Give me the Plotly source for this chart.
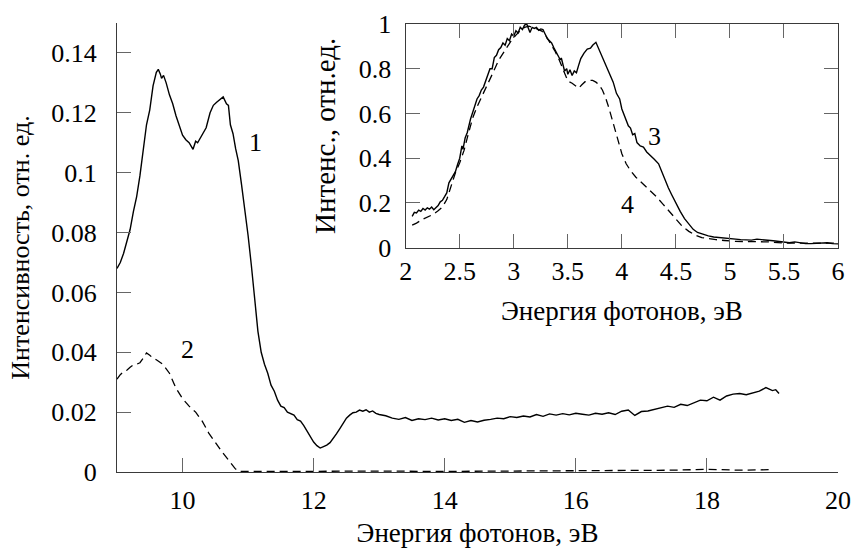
import plotly.graph_objects as go

# ---- main panel: curves 1 (solid) and 2 (dashed), intensity vs photon energy ----
energy_1 = [9.00, 9.05, 9.10, 9.15, 9.20, 9.25, 9.30, 9.35, 9.40, 9.45, 9.50, 9.55, 9.60, 9.63,
            9.66, 9.68, 9.71, 9.75, 9.80, 9.85, 9.90, 9.95, 10.00, 10.05, 10.10, 10.16, 10.20,
            10.23, 10.27, 10.31, 10.36, 10.42, 10.47, 10.52, 10.57, 10.62, 10.67, 10.70, 10.73,
            10.77, 10.81, 10.85, 10.90, 10.95, 11.00, 11.05, 11.10, 11.15, 11.20, 11.25, 11.30,
            11.35, 11.40, 11.45, 11.50, 11.55, 11.60, 11.65, 11.70, 11.75, 11.80, 11.85, 11.90,
            11.95, 12.00, 12.05, 12.10, 12.15, 12.20, 12.25, 12.30, 12.35, 12.40, 12.45, 12.50,
            12.55, 12.60, 12.65, 12.70, 12.75, 12.80, 12.85, 12.90, 12.95, 13.00,
            13.1, 13.2, 13.3, 13.4, 13.5, 13.6, 13.7, 13.8, 13.9, 14.0, 14.1, 14.2, 14.3, 14.4,
            14.5, 14.6, 14.7, 14.8, 14.9, 15.0, 15.1, 15.2, 15.3, 15.4, 15.5, 15.6, 15.7, 15.8,
            15.9, 16.0, 16.1, 16.2, 16.3, 16.4, 16.5, 16.6, 16.7, 16.8, 16.9, 17.0, 17.1, 17.2,
            17.3, 17.4, 17.5, 17.6, 17.7, 17.8, 17.9, 18.0, 18.1, 18.2, 18.3, 18.4, 18.5, 18.6,
            18.7, 18.8, 18.9, 19.0, 19.05, 19.1]
intensity_1 = [0.0680, 0.0700, 0.0730, 0.0770, 0.0810, 0.0870, 0.0920, 0.0990, 0.1070, 0.1160,
               0.1210, 0.1290, 0.1335, 0.1345, 0.1330, 0.1315, 0.1325, 0.1300, 0.1260, 0.1230,
               0.1190, 0.1160, 0.1125, 0.1110, 0.1100, 0.1078, 0.1105, 0.1100, 0.1115, 0.1130,
               0.1150, 0.1200, 0.1225, 0.1235, 0.1245, 0.1253, 0.1230, 0.1225, 0.1160, 0.1130,
               0.1080, 0.1040, 0.0960, 0.0880, 0.0790, 0.0690, 0.0580, 0.0470, 0.0400, 0.0360,
               0.0330, 0.0290, 0.0270, 0.0240, 0.0220, 0.0215, 0.0200, 0.0195, 0.0190, 0.0175,
               0.0170, 0.0155, 0.0135, 0.0118, 0.0100, 0.0088, 0.0080, 0.0085, 0.0090, 0.0098,
               0.0112, 0.0128, 0.0145, 0.0165, 0.0180, 0.0190, 0.0198, 0.0200, 0.0207, 0.0203,
               0.0208, 0.0200, 0.0204, 0.0196, 0.0192,
               0.0188, 0.0180, 0.0176, 0.0182, 0.0172, 0.0178, 0.0175, 0.0180, 0.0174, 0.0178,
               0.0172, 0.0176, 0.0166, 0.0172, 0.0167, 0.0173, 0.0176, 0.0180, 0.0178, 0.0185,
               0.0182, 0.0187, 0.0184, 0.0192, 0.0186, 0.0194, 0.0190, 0.0195, 0.0191, 0.0196,
               0.0193, 0.0190, 0.0196, 0.0193, 0.0198, 0.0192, 0.0203, 0.0207, 0.0189, 0.0202,
               0.0204, 0.0210, 0.0214, 0.0220, 0.0216, 0.0226, 0.0222, 0.0230, 0.0240, 0.0238,
               0.0250, 0.0240, 0.0254, 0.0260, 0.0262, 0.0258, 0.0265, 0.0270, 0.0282, 0.0272,
               0.0275, 0.0262]

energy_2 = [9.00, 9.05, 9.10, 9.15, 9.20, 9.25, 9.30, 9.35, 9.40, 9.45, 9.50, 9.55, 9.60, 9.70,
            9.80, 9.90, 10.00, 10.10, 10.20, 10.30, 10.40, 10.50, 10.60, 10.70, 10.80, 10.85,
            10.90, 11.50, 12.00, 13.00, 14.00, 15.00, 16.00, 16.50, 17.00, 17.50, 18.00, 18.20,
            18.50, 19.00]
intensity_2 = [0.0310, 0.0325, 0.0335, 0.0340, 0.0350, 0.0358, 0.0360, 0.0365, 0.0380, 0.0398,
               0.0390, 0.0380, 0.0375, 0.0360, 0.0330, 0.0280, 0.0245, 0.0220, 0.0200, 0.0170,
               0.0130, 0.0098, 0.0068, 0.0040, 0.0012, 0.0003, 0.0002, 0.0002, 0.0003, 0.0003,
               0.0002, 0.0003, 0.0003, 0.0004, 0.0005, 0.0006, 0.0009, 0.0007, 0.0006, 0.0008]

main_xticks = [10, 12, 14, 16, 18, 20]
main_yticks = [0, 0.02, 0.04, 0.06, 0.08, 0.1, 0.12, 0.14]
main_yticktext = ["0", "0.02", "0.04", "0.06", "0.08", "0.1", "0.12", "0.14"]

# ---- inset: curves 3 (solid) and 4 (dashed), normalised intensity ----
energy_3 = [2.06, 2.08, 2.10, 2.12, 2.14, 2.16, 2.18, 2.20, 2.22, 2.24, 2.26, 2.28, 2.30, 2.32,
            2.34, 2.36, 2.38, 2.40, 2.42, 2.44, 2.46, 2.48, 2.50, 2.52, 2.53, 2.55, 2.57, 2.60,
            2.62, 2.64, 2.66, 2.68, 2.70, 2.72, 2.74, 2.76, 2.78, 2.80, 2.82, 2.84, 2.86, 2.88,
            2.90, 2.92, 2.94, 2.96, 2.98, 3.00, 3.02, 3.04, 3.06, 3.08, 3.10, 3.12, 3.14, 3.15,
            3.17, 3.19, 3.21, 3.23, 3.25, 3.27, 3.29, 3.31, 3.33, 3.35, 3.37, 3.39, 3.41, 3.43,
            3.44, 3.46, 3.47, 3.49, 3.50, 3.52, 3.54, 3.56, 3.58, 3.60, 3.62, 3.65, 3.68, 3.71,
            3.73, 3.76, 3.78, 3.80, 3.83, 3.86, 3.89, 3.92, 3.95, 3.98, 4.00, 4.03, 4.06, 4.08,
            4.10, 4.12, 4.14, 4.17, 4.20, 4.23, 4.26, 4.30, 4.34, 4.37, 4.40, 4.43, 4.46, 4.50,
            4.54, 4.58, 4.62, 4.66, 4.70, 4.75, 4.80, 4.85, 4.90, 4.95, 5.00, 5.05, 5.10, 5.15,
            5.20, 5.25, 5.30, 5.35, 5.40, 5.45, 5.50, 5.55, 5.60, 5.65, 5.70, 5.75, 5.80, 5.85,
            5.90, 5.95, 6.00]
intensity_3 = [0.140, 0.158, 0.155, 0.168, 0.162, 0.175, 0.168, 0.178, 0.172, 0.182, 0.170,
               0.180, 0.188, 0.205, 0.212, 0.228, 0.245, 0.290, 0.305, 0.322, 0.340, 0.372,
               0.400, 0.455, 0.440, 0.490, 0.515, 0.575, 0.605, 0.630, 0.665, 0.680, 0.705,
               0.718, 0.745, 0.770, 0.800, 0.800, 0.850, 0.860, 0.885, 0.895, 0.915, 0.905,
               0.935, 0.925, 0.955, 0.945, 0.970, 0.960, 0.985, 0.975, 0.995, 1.000, 0.975,
               0.962, 0.985, 0.980, 0.985, 0.972, 0.978, 0.975, 0.955, 0.935, 0.925, 0.915,
               0.895, 0.875, 0.862, 0.840, 0.848, 0.800, 0.790, 0.800, 0.775, 0.795, 0.770,
               0.790, 0.782, 0.815, 0.845, 0.870, 0.888, 0.892, 0.905, 0.918, 0.895, 0.875,
               0.845, 0.810, 0.775, 0.740, 0.690, 0.665, 0.620, 0.580, 0.545, 0.535, 0.505,
               0.510, 0.470, 0.455, 0.450, 0.428, 0.412, 0.395, 0.375, 0.340, 0.298, 0.268,
               0.238, 0.198, 0.162, 0.130, 0.105, 0.082, 0.068, 0.060, 0.053, 0.048, 0.045,
               0.043, 0.041, 0.038, 0.036, 0.035, 0.034, 0.038, 0.037, 0.033, 0.031, 0.027,
               0.023, 0.022, 0.026, 0.021, 0.018, 0.018, 0.019, 0.020, 0.022, 0.018, 0.017]

energy_4 = [2.06, 2.10, 2.15, 2.20, 2.25, 2.30, 2.34, 2.38, 2.42, 2.46, 2.50, 2.54, 2.58, 2.62,
            2.66, 2.70, 2.74, 2.78, 2.82, 2.86, 2.90, 2.94, 2.98, 3.02, 3.06, 3.10, 3.14, 3.18,
            3.22, 3.26, 3.30, 3.34, 3.38, 3.42, 3.46, 3.50, 3.54, 3.58, 3.60, 3.63, 3.66, 3.70,
            3.73, 3.76, 3.79, 3.82, 3.85, 3.88, 3.91, 3.94, 3.97, 4.00, 4.04, 4.08, 4.13, 4.19,
            4.26, 4.32, 4.38, 4.44, 4.50, 4.56, 4.62, 4.68, 4.74, 4.80, 4.87, 4.95, 5.05, 5.20,
            5.35, 5.50, 5.65, 5.80, 6.00]
intensity_4 = [0.101, 0.110, 0.125, 0.135, 0.148, 0.165, 0.182, 0.215, 0.275, 0.335, 0.380,
               0.435, 0.510, 0.580, 0.630, 0.670, 0.715, 0.755, 0.795, 0.838, 0.870, 0.900,
               0.928, 0.950, 0.970, 0.985, 0.990, 0.985, 0.978, 0.968, 0.945, 0.915, 0.880,
               0.840, 0.790, 0.745, 0.735, 0.722, 0.713, 0.728, 0.742, 0.748, 0.748, 0.740,
               0.727, 0.705, 0.670, 0.625, 0.575, 0.530, 0.470, 0.420, 0.375, 0.345, 0.315,
               0.288, 0.258, 0.228, 0.195, 0.160, 0.125, 0.095, 0.073, 0.056, 0.045, 0.040,
               0.036, 0.032, 0.028, 0.027, 0.026, 0.021, 0.020, 0.020, 0.020]

inset_xticks = [2, 2.5, 3, 3.5, 4, 4.5, 5, 5.5, 6]
inset_yticks = [0, 0.2, 0.4, 0.6, 0.8, 1]

FONT = "'Liberation Serif', 'Times New Roman', serif"
INK = "black"
AXIS = "#3a3a3a"
TICK = "#666666"
TITLE_SIZE = 27

fig = go.Figure()

fig.add_trace(go.Scatter(x=energy_1, y=intensity_1, mode="lines",
                         line=dict(color=INK, width=1.4), xaxis="x", yaxis="y"))
fig.add_trace(go.Scatter(x=energy_2, y=intensity_2, mode="lines",
                         line=dict(color=INK, width=1.3, dash="8px,5px"), xaxis="x", yaxis="y"))
fig.add_trace(go.Scatter(x=energy_3, y=intensity_3, mode="lines",
                         line=dict(color=INK, width=1.4), xaxis="x2", yaxis="y2"))
fig.add_trace(go.Scatter(x=energy_4, y=intensity_4, mode="lines",
                         line=dict(color=INK, width=1.3, dash="8px,5px"), xaxis="x2", yaxis="y2"))

common_tick = dict(ticks="inside", ticklen=14, tickwidth=1.2, tickcolor=TICK,
                   showgrid=False, zeroline=False, linecolor=AXIS, linewidth=1.3,
                   automargin=False,
                   tickfont=dict(family=FONT, size=26, color=INK))

fig.update_layout(
    width=854, height=548,
    margin=dict(l=117, r=16, t=23, b=76, autoexpand=False),
    paper_bgcolor="white", plot_bgcolor="white",
    showlegend=False,
    font=dict(family=FONT, color=INK),
    xaxis=dict(domain=[0, 1], range=[9, 20], tickvals=main_xticks,
               showline=True, ticklabelstandoff=5,
               title=dict(text="Энергия фотонов, эВ", font=dict(family=FONT, size=TITLE_SIZE),
                          standoff=22),
               **common_tick),
    yaxis=dict(domain=[0, 1], range=[0, 0.15], tickvals=main_yticks, ticktext=main_yticktext,
               showline=True, ticklabelstandoff=14,
               title=dict(text="Интенсивность, отн. ед.", font=dict(family=FONT, size=26),
                          standoff=14),
               **common_tick),
    xaxis2=dict(domain=[0.4004, 1.0], range=[2, 6], tickvals=inset_xticks, anchor="y2",
                showline=True, mirror="ticks", ticklabelstandoff=0,
                title=dict(text="Энергия фотонов, эВ", font=dict(family=FONT, size=TITLE_SIZE),
                           standoff=16),
                **common_tick),
    yaxis2=dict(domain=[0.4996, 0.9978], range=[0, 1], tickvals=inset_yticks, anchor="x2",
                showline=True, mirror="ticks", ticklabelstandoff=8,
                title=dict(text="Интенс., отн.ед.", font=dict(family=FONT, size=29),
                           standoff=14),
                **common_tick),
)

# curve numbers
labels = [("1", 11.107, 0.110, "x", "y"), ("2", 10.08, 0.041, "x", "y"),
          ("3", 4.30, 0.495, "x2", "y2"), ("4", 4.055, 0.191, "x2", "y2")]
for text, lx, ly, xr, yr in labels:
    fig.add_annotation(x=lx, y=ly, xref=xr, yref=yr, text=text, showarrow=False,
                       font=dict(family=FONT, size=26, color=INK))

fig.write_html("out.html")
